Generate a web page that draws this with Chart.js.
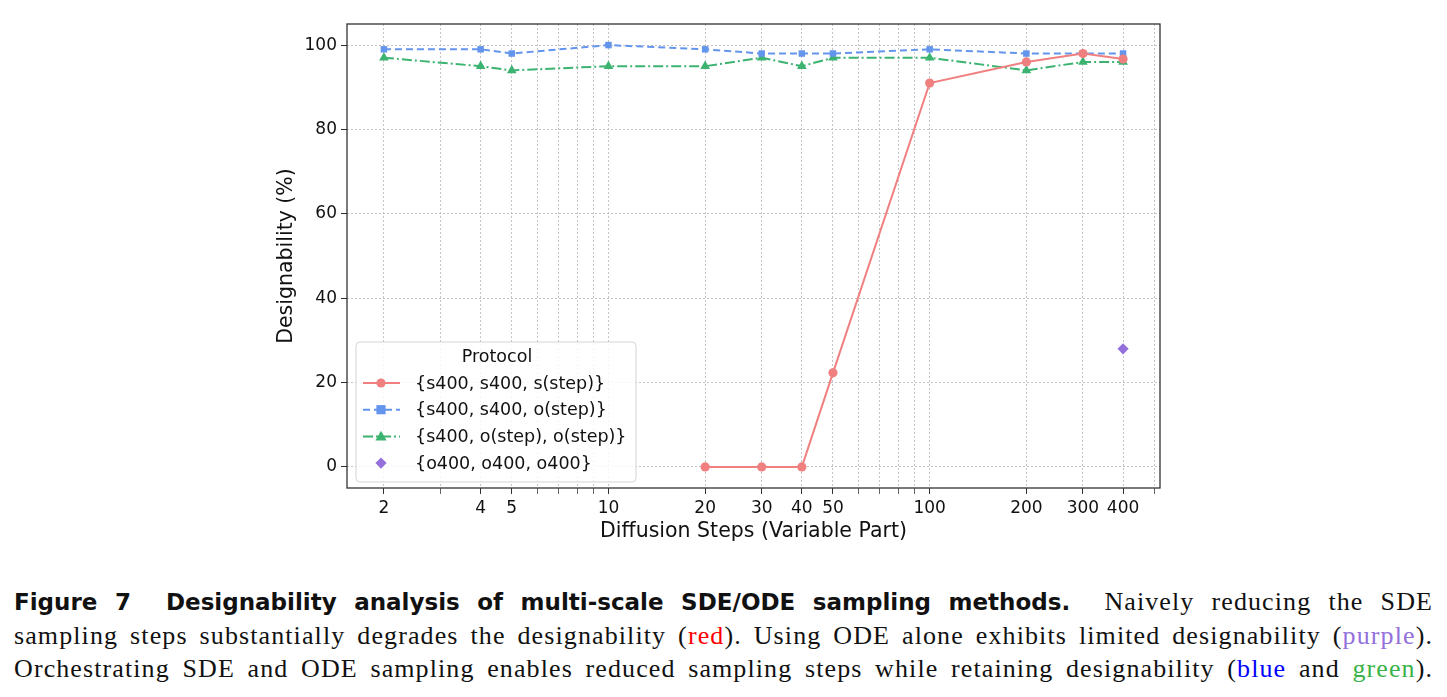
<!DOCTYPE html>
<html>
<head>
<meta charset="utf-8">
<script src="https://cdn.jsdelivr.net/npm/chart.js@4/dist/chart.umd.min.js"></script>
<style>
  body { margin: 0; background: #fff; width: 1447px; height: 697px; overflow: hidden; }
  #wrap { position: relative; width: 1447px; height: 560px; }
  #caption { position: absolute; left: 14px; top: 585px; width: 1419px; font-family: "Liberation Serif", serif; font-size: 26px; color: #111; }
  #caption div { text-align: justify; text-align-last: justify; line-height: 33px; white-space: nowrap; letter-spacing: 1.1px; }
  #caption b { font-family: "DejaVu Sans", sans-serif; font-weight: bold; font-size: 23px; letter-spacing: 0; }
</style>
</head>
<body>
<div id="wrap"><canvas id="chart"></canvas></div>
<div id="caption">
  <div><b>Figure 7&nbsp;&nbsp;Designability analysis of multi-scale SDE/ODE sampling methods.</b>&nbsp; Naively reducing the SDE</div>
  <div>sampling steps substantially degrades the designability (<span style="color:#ff0000">red</span>). Using ODE alone exhibits limited designability (<span style="color:#9370DB">purple</span>).</div>
  <div>Orchestrating SDE and ODE sampling enables reduced sampling steps while retaining designability (<span style="color:#0000ff">blue</span> and <span style="color:#3cb34a">green</span>).</div>
</div>
<script>
// data
const stepsAll = [2, 4, 5, 10, 20, 30, 40, 50, 100, 200, 300, 400];
const stepsRed = [20, 30, 40, 50, 100, 200, 300, 400];
const sdeStep = [0, 0, 0, 22.3, 91, 96, 98, 96.7];
const sdeOdeStep = [99, 99, 98, 100, 99, 98, 98, 98, 99, 98, 98, 98];
const odeOdeStep = [97, 95, 94, 95, 95, 97, 95, 97, 97, 94, 96, 96];
const odeOnlyX = [400];
const odeOnly = [28];
const tickLabels = [2, 4, 5, 10, 20, 30, 40, 50, 100, 200, 300, 400];
const gridValues = [2, 3, 4, 5, 6, 7, 8, 9, 10, 20, 30, 40, 50, 60, 70, 80, 90, 100, 200, 300, 400, 500];
const yTicks = [0, 20, 40, 60, 80, 100];

const toPts = (xs, ys) => xs.map((x, i) => ({ x: x, y: ys[i] }));
const font = "'DejaVu Sans', sans-serif";

// box around the plot + legend inside (matplotlib style)
const framePlugin = {
  id: "frame",
  afterDatasetsDraw(chart) {
    const { ctx, chartArea: a } = chart;
    ctx.save();
    ctx.strokeStyle = "#333";
    ctx.lineWidth = 1.3;
    ctx.setLineDash([]);
    ctx.strokeRect(a.left, a.top, a.right - a.left, a.bottom - a.top);

    // legend
    const bx = 356, by = 342, bw = 280, bh = 140;
    ctx.fillStyle = "rgba(255,255,255,0.85)";
    ctx.strokeStyle = "#d5d5d5";
    ctx.lineWidth = 1;
    ctx.beginPath();
    ctx.roundRect(bx, by, bw, bh, 4);
    ctx.fill();
    ctx.stroke();
    ctx.fillStyle = "#111";
    ctx.font = "17.5px " + font;
    ctx.textAlign = "center";
    ctx.textBaseline = "middle";
    ctx.fillText("Protocol", 497, 357);
    ctx.textAlign = "left";
    chart.data.datasets.forEach((ds, i) => {
      const y = 383 + i * 26.7;
      if (ds.showLine !== false) {
        ctx.strokeStyle = ds.borderColor;
        ctx.lineWidth = 2;
        ctx.setLineDash(ds.borderDash || []);
        ctx.beginPath();
        ctx.moveTo(363, y);
        ctx.lineTo(400, y);
        ctx.stroke();
        ctx.setLineDash([]);
      }
      drawMarker(ctx, ds.pointStyle, 381, y, ds.pointRadius, ds.pointBackgroundColor);
      ctx.fillStyle = "#111";
      ctx.fillText(ds.label, 415, y + 1);
    });
    ctx.restore();
  }
};

function drawMarker(ctx, style, x, y, r, color) {
  ctx.fillStyle = color;
  ctx.beginPath();
  if (style === "circle") ctx.arc(x, y, r, 0, Math.PI * 2);
  else if (style === "rect") ctx.rect(x - r, y - r, 2 * r, 2 * r);
  else if (style === "triangle") { ctx.moveTo(x, y - r); ctx.lineTo(x + r, y + r * 0.75); ctx.lineTo(x - r, y + r * 0.75); ctx.closePath(); }
  else if (style === "rectRot") { ctx.moveTo(x, y - r); ctx.lineTo(x + r, y); ctx.lineTo(x, y + r); ctx.lineTo(x - r, y); ctx.closePath(); }
  ctx.fill();
}

new Chart(document.getElementById("chart"), {
  type: "line",
  data: {
    datasets: [
      {
        label: "{s400, s400, s(step)}",
        data: toPts(stepsRed, sdeStep),
        borderColor: "#F08080", backgroundColor: "#F08080",
        pointBackgroundColor: "#F08080", pointBorderWidth: 0,
        pointStyle: "circle", pointRadius: 4.6, borderWidth: 2
      },
      {
        label: "{s400, s400, o(step)}",
        data: toPts(stepsAll, sdeOdeStep),
        borderColor: "#6495ED", backgroundColor: "#6495ED",
        pointBackgroundColor: "#6495ED", pointBorderWidth: 0,
        pointStyle: "rect", pointRadius: 4.6, borderWidth: 2, borderDash: [7, 4]
      },
      {
        label: "{s400, o(step), o(step)}",
        data: toPts(stepsAll, odeOdeStep),
        borderColor: "#3CB371", backgroundColor: "#3CB371",
        pointBackgroundColor: "#3CB371", pointBorderWidth: 0,
        pointStyle: "triangle", pointRadius: 5.6, borderWidth: 2, borderDash: [10, 3, 2, 3]
      },
      {
        label: "{o400, o400, o400}",
        data: toPts(odeOnlyX, odeOnly),
        borderColor: "#9370DB", backgroundColor: "#9370DB",
        pointBackgroundColor: "#9370DB", pointBorderWidth: 0,
        pointStyle: "rectRot", pointRadius: 5.6, showLine: false
      }
    ]
  },
  options: {
    responsive: true,
    maintainAspectRatio: false,
    animation: false,
    layout: { padding: { left: 270, right: 287, top: 24, bottom: 12 } },
    plugins: { legend: { display: false }, tooltip: { enabled: false } },
    scales: {
      x: {
        type: "logarithmic",
        min: 2 / Math.pow(10, 0.115),
        max: 400 * Math.pow(10, 0.115),
        afterBuildTicks(scale) { scale.ticks = gridValues.map(v => ({ value: v })); },
        afterFit(scale) { scale.height = 60; },
        border: { display: false, dash: [2, 2] },
        grid: {
          color: "#c4c4c4", lineWidth: 1, tickLength: 6,
          tickColor: ctx => tickLabels.includes(ctx.tick.value) ? "#333" : "#666"
        },
        ticks: {
          autoSkip: false, maxRotation: 0, padding: 4,
          color: "#111", font: { family: font, size: 17 },
          callback: v => tickLabels.includes(v) ? String(v) : ""
        },
        title: { display: true, text: "Diffusion Steps (Variable Part)", color: "#111", font: { family: font, size: 20.5 }, padding: { top: 0 } }
      },
      y: {
        min: -5, max: 105,
        afterBuildTicks(scale) { scale.ticks = yTicks.map(v => ({ value: v })); },
        afterFit(scale) { scale.width = 77; },
        border: { display: false, dash: [2, 2] },
        grid: { color: "#c4c4c4", lineWidth: 1, tickLength: 6, tickColor: "#333" },
        ticks: { color: "#111", font: { family: font, size: 17 }, padding: 4 },
        title: { display: true, text: "Designability (%)", color: "#111", font: { family: font, size: 20.5 }, padding: { bottom: 2 } }
      }
    }
  },
  plugins: [framePlugin]
});
</script>
</body>
</html>
